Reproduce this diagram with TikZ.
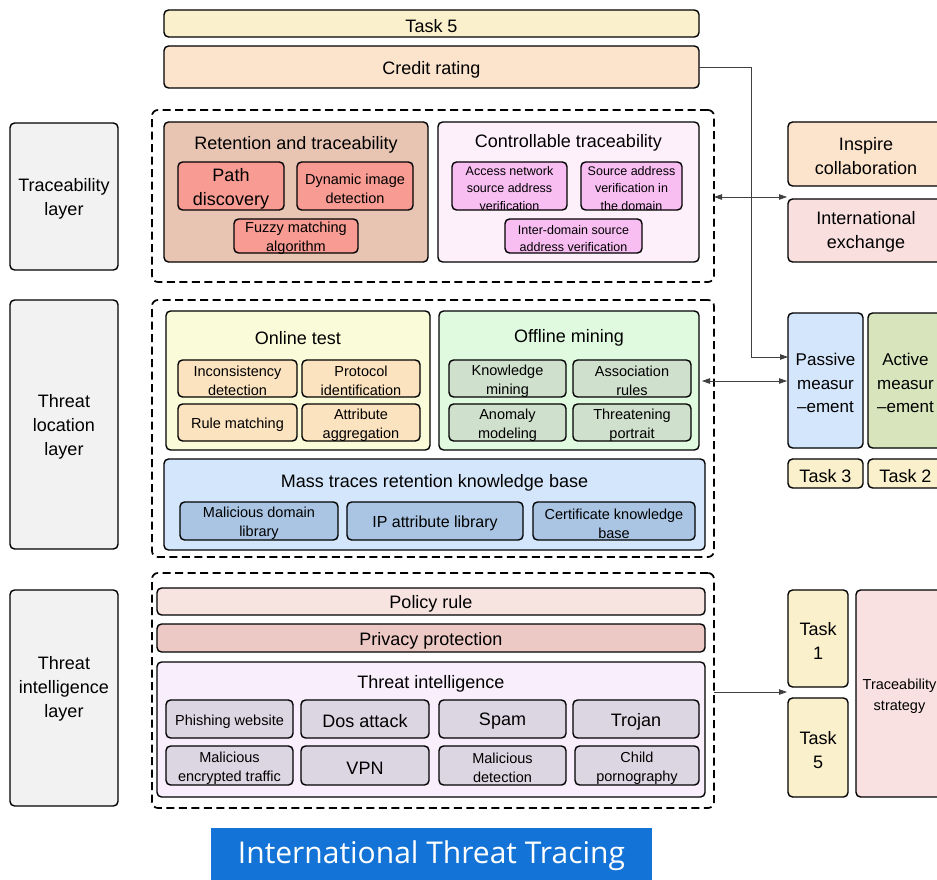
\documentclass[tikz,border=0pt]{standalone}
\usepackage{fontspec}
\setmainfont{Liberation Sans}
\newfontfamily\bannerfont{Open Sans}
\usetikzlibrary{arrows.meta,calc}
\definecolor{taskY}{HTML}{FBF0CC}
\definecolor{peach}{HTML}{FCE3CC}
\definecolor{retC}{HTML}{E8C5B3}
\definecolor{salmon}{HTML}{F89B92}
\definecolor{ctrlC}{HTML}{FDF0FA}
\definecolor{pinkB}{HTML}{F8BEF2}
\definecolor{exchC}{HTML}{F9E0DF}
\definecolor{onlC}{HTML}{FAFBD8}
\definecolor{orgB}{HTML}{FCE3BF}
\definecolor{offC}{HTML}{E0FADF}
\definecolor{grnB}{HTML}{CFE0CC}
\definecolor{massC}{HTML}{D4E6FB}
\definecolor{bluB}{HTML}{A9C5E3}
\definecolor{actC}{HTML}{D8E5BC}
\definecolor{polC}{HTML}{F7E3DF}
\definecolor{privC}{HTML}{EDC9C5}
\definecolor{tiC}{HTML}{F9EEFB}
\definecolor{lavB}{HTML}{DCD5E2}
\definecolor{stratC}{HTML}{F8E1E0}
\definecolor{layC}{HTML}{F2F2F2}
\definecolor{banC}{HTML}{1473D6}
% box: #1 name, #2 x1, #3 y1, #4 x2, #5 y2, #6 style, #7 text (text set 2.5pt lower than centre)
\newcommand\bx[7]{%
  \node[#6,minimum width={(#4-#2)*1pt},minimum height={(#5-#3)*1pt}] (#1) at ({(#2+#4)/2},{(#3+#5)/2}) {};%
  \node[#6,draw=none,fill=none,minimum width=0pt,minimum height=0pt] (#1-t) at ({(#2+#4)/2},{(#3+#5)/2+2.5}) {#7};}
\begin{document}
\begin{tikzpicture}[x=1pt,y=-1pt,
  box/.style={draw=black,line width=1.4pt,rounded corners=4.5pt,align=center,inner sep=0pt,outer sep=0pt},
  dbox/.style={draw=black,line width=1.7pt,dash pattern=on 8pt off 4.5pt,rounded corners=6pt,inner sep=0pt,outer sep=0pt},
  bigf/.style={font=\fontsize{18}{24}\selectfont},
  smallf/.style={font=\fontsize{14.5}{19}\selectfont},
  tinyf/.style={font=\fontsize{12.5}{17.5}\selectfont},
  ttl/.style={bigf,inner sep=0pt},
  conn/.style={draw=black!75,line width=0.8pt},
  tipr/.style={-{Triangle[length=8pt,width=5.5pt]}},
  tipb/.style={{Triangle[length=8pt,width=5.5pt]}-{Triangle[length=8pt,width=5.5pt]}}
]
\useasboundingbox (0,0) rectangle (937,880);
\clip (0,0) rectangle (937,880);
\fill[white] (0,0) rectangle (937,880);

% top bars
\bx{task5top}{164}{10}{699}{37}{box,fill=taskY,bigf}{Task 5}
\bx{credit}{164}{46}{699}{88}{box,fill=peach,bigf}{Credit rating}

% layer labels
\bx{lay1}{10}{123}{118}{270}{box,fill=layC,bigf}{Traceability\\layer}
\bx{lay2}{10}{300}{118}{549}{box,fill=layC,bigf}{Threat\\location\\layer}
\node[box,fill=layC,minimum width=108pt,minimum height=216pt] (lay3) at (64,698) {};
\node[bigf,align=center,inner sep=0pt] (lay3-t) at (64,689) {Threat\\intelligence\\layer};

% dashed containers
\bx{d1}{152}{110}{714}{282}{dbox}{}
\bx{d2}{152}{300}{714}{557}{dbox}{}
\bx{d3}{152}{573}{714}{808}{dbox}{}

% traceability layer
\bx{ret}{164}{122}{428}{262}{box,fill=retC}{}
\node[ttl] (retT) at (296,145) {Retention and traceability};
\bx{path}{178}{162}{284}{210}{box,fill=salmon,bigf}{Path\\discovery}
\bx{dyn}{297}{162}{413}{210}{box,fill=salmon,smallf}{Dynamic image\\detection}
\bx{fuzzy}{234}{219}{358}{253}{box,fill=salmon,smallf}{Fuzzy matching\\algorithm}

\bx{ctrl}{438}{122}{699}{262}{box,fill=ctrlC}{}
\node[ttl] (ctrlT) at (568.5,143) {Controllable traceability};
\bx{acc}{452}{162}{567}{210}{box,fill=pinkB,tinyf}{Access network\\source address\\verification}
\bx{src}{581}{162}{682}{210}{box,fill=pinkB,tinyf}{Source address\\verification in\\the domain}
\bx{inter}{505}{219}{642}{253}{box,fill=pinkB,tinyf}{Inter-domain source\\address verification}

% threat location layer
\bx{onl}{166}{311}{430}{450}{box,fill=onlC}{}
\node[ttl] (onlT) at (298,338) {Online test};
\bx{inc}{178}{360}{297}{397}{box,fill=orgB,smallf}{Inconsistency\\detection}
\bx{prot}{302}{360}{420}{397}{box,fill=orgB,smallf}{Protocol\\identification}
\bx{rule}{178}{404}{297}{441}{box,fill=orgB,smallf}{Rule matching}
\bx{attr}{302}{404}{420}{441}{box,fill=orgB,smallf}{Attribute\\aggregation}

\bx{off}{439}{311}{699}{450}{box,fill=offC}{}
\node[ttl] (offT) at (569,338) {Offline mining};
\bx{know}{449}{360}{566}{397}{box,fill=grnB,smallf}{Knowledge\\mining}
\bx{assoc}{573}{360}{691}{397}{box,fill=grnB,smallf}{Association\\rules}
\bx{anom}{449}{404}{566}{441}{box,fill=grnB,smallf}{Anomaly\\modeling}
\bx{thr}{573}{404}{691}{441}{box,fill=grnB,smallf}{Threatening\\portrait}

\bx{mass}{164}{459}{705}{550}{box,fill=massC}{}
\node[ttl] (massT) at (434.5,483) {Mass traces retention knowledge base};
\bx{mdl}{180}{502}{338}{540}{box,fill=bluB,smallf}{Malicious domain\\library}
\bx{ipl}{347}{502}{523}{540}{box,fill=bluB,font=\fontsize{16}{20}\selectfont}{IP attribute library}
\bx{cert}{533}{502}{695}{540}{box,fill=bluB,smallf}{Certificate knowledge\\base}

% threat intelligence layer
\bx{pol}{157}{588}{705}{615}{box,fill=polC,bigf}{Policy rule}
\bx{priv}{157}{624}{705}{652}{box,fill=privC,bigf}{Privacy protection}
\bx{ti}{157}{662}{705}{797}{box,fill=tiC}{}
\node[ttl] (tiT) at (431,684) {Threat intelligence};
\bx{phish}{166}{700}{293}{738}{box,fill=lavB,smallf}{Phishing website}
\bx{dos}{301}{700}{429}{738}{box,fill=lavB,bigf}{Dos attack}
\bx{spam}{439}{700}{566}{738}{box,fill=lavB,bigf}{Spam}
\bx{troj}{573}{700}{699}{738}{box,fill=lavB,bigf}{Trojan}
\bx{menc}{166}{746}{293}{785}{box,fill=lavB,smallf}{Malicious\\encrypted traffic}
\bx{vpn}{301}{746}{429}{785}{box,fill=lavB,bigf}{VPN}
\bx{mdet}{439}{746}{566}{785}{box,fill=lavB,smallf}{Malicious\\detection}
\bx{child}{575}{746}{699}{785}{box,fill=lavB,smallf}{Child\\pornography}

% right column
\bx{insp}{788}{122}{950}{186}{box,fill=peach}{}
\node[bigf,align=center] (inspT) at (866,156) {Inspire\\collaboration};
\bx{intl}{788}{199}{950}{262}{box,fill=exchC}{}
\node[bigf,align=center] (intlT) at (866,232) {International\\exchange};
\bx{pas}{788}{313}{863}{448}{box,fill=massC,font=\fontsize{17}{23.5}\selectfont}{Passive\\measur\\–ement}
\bx{act}{868}{313}{943}{448}{box,fill=actC,font=\fontsize{17}{23.5}\selectfont}{Active\\measur\\–ement}
\bx{task3}{788}{459}{863}{488}{box,fill=taskY,bigf}{Task 3}
\bx{task2}{868}{459}{943}{488}{box,fill=taskY,bigf}{Task 2}
\bx{task1}{788}{590}{848}{687}{box,fill=taskY,bigf}{Task\\1}
\bx{task5}{788}{698}{848}{797}{box,fill=taskY,bigf}{Task\\5}
\bx{strat}{856}{590}{943}{797}{box,fill=stratC,font=\fontsize{14.5}{21}\selectfont}{Traceability\\strategy}

% connectors
\coordinate (bend) at (751,357);
\draw[conn,tipr] (credit.east) -| (bend) -- (pas.west |- bend);
\coordinate (ya) at (0,197);
\draw[conn,tipb] (d1.east |- ya) -- ($(intl.west |- ya)+(-1,0)$);
\coordinate (yb) at (0,381);
\draw[conn,tipb] ($(off.east |- yb)+(3,0)$) -- ($(pas.west |- yb)+(-1,0)$);
\coordinate (yc) at (0,692);
\draw[conn,tipr] (d3.east |- yc) -- ($(task1.west |- yc)+(-1,0)$);

% banner
\node[fill=banC,minimum width=441pt,minimum height=52pt,inner sep=0pt] (banner) at (431.5,854) {};
\node[text=white,inner sep=0pt,font=\bannerfont\fontsize{30}{34}\selectfont] (banner-t) at (431.5,856) {International Threat Tracing};
\end{tikzpicture}
\end{document}
